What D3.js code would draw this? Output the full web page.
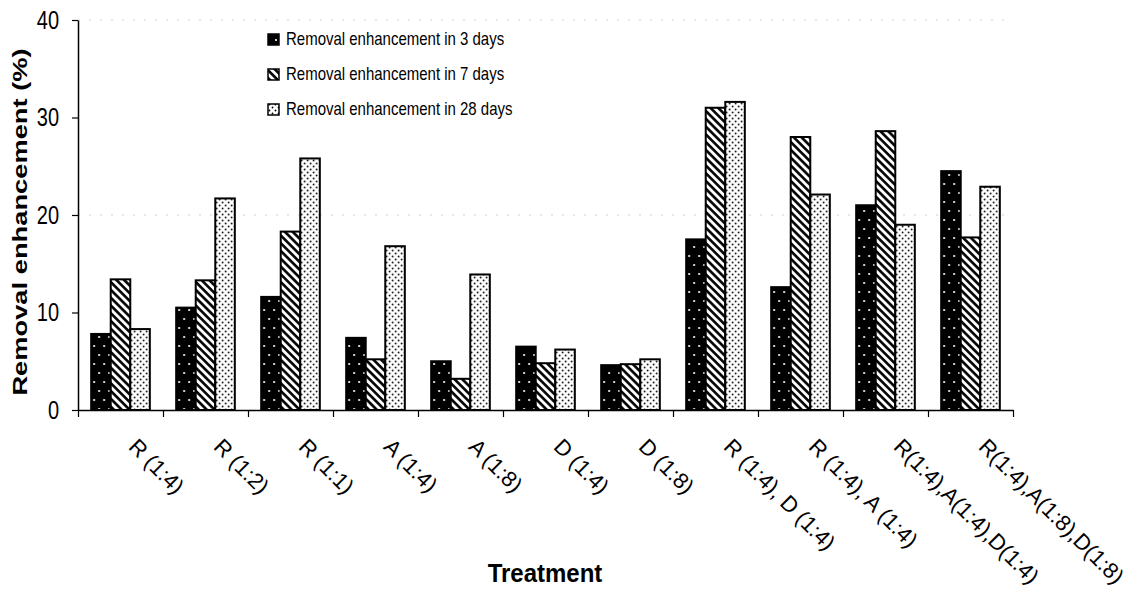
<!DOCTYPE html>
<html><head><meta charset="utf-8">
<script src="https://cdn.jsdelivr.net/npm/d3@7"></script>
<style>body{margin:0;background:#fff}text{font-family:"Liberation Sans",Arial,sans-serif}</style>
</head><body>
<svg id="c" width="1139" height="595"></svg>
<script>
const categories = ["R (1:4)","R (1:2)","R (1:1)","A (1:4)","A (1:8)","D (1:4)","D (1:8)","R (1:4), D (1:4)","R (1:4), A (1:4)","R(1:4),A(1:4),D(1:4)","R(1:4),A(1:8),D(1:8)"];
const seriesNames = ["Removal enhancement in 3 days","Removal enhancement in 7 days","Removal enhancement in 28 days"];
const days3 = [7.8,10.5,11.6,7.4,5.0,6.5,4.6,17.5,12.6,21.0,24.5];
const days7 = [13.4,13.3,18.3,5.2,3.2,4.8,4.7,31.0,28.0,28.6,17.7];
const days28 = [8.3,21.7,25.8,16.8,13.9,6.2,5.2,31.6,22.1,19.0,22.9];
const yTicks = [0,10,20,30,40];
const gridValues = [20,40];
const yTitle = "Removal enhancement (%)";
const xTitle = "Treatment";

const series = [days3, days7, days28];
const svg = d3.select("#c");
const L = 78, R = 1013, T = 20, B = 410;

// patterns
const defs = svg.append("defs");
const p0 = defs.append("pattern").attr("id","pat0").attr("patternUnits","userSpaceOnUse").attr("width",10).attr("height",18);
p0.append("rect").attr("width",10).attr("height",18).attr("fill","#000");
p0.append("circle").attr("cx",3).attr("cy",4).attr("r",1.1).attr("fill","#fff");
p0.append("circle").attr("cx",8).attr("cy",13).attr("r",1.1).attr("fill","#fff");
const p1 = defs.append("pattern").attr("id","pat1").attr("patternUnits","userSpaceOnUse").attr("width",5.5).attr("height",5.5).attr("patternTransform","rotate(-45)");
p1.append("rect").attr("width",5.5).attr("height",5.5).attr("fill","#fff");
p1.append("line").attr("x1",1.4).attr("x2",1.4).attr("y1",0).attr("y2",5.5).attr("stroke","#000").attr("stroke-width",2.6);
const p2 = defs.append("pattern").attr("id","pat2").attr("patternUnits","userSpaceOnUse").attr("width",6).attr("height",6);
p2.append("rect").attr("width",6).attr("height",6).attr("fill","#fff");
p2.append("circle").attr("cx",1.5).attr("cy",1.5).attr("r",0.9).attr("fill","#000");
p2.append("circle").attr("cx",4.5).attr("cy",4.5).attr("r",0.9).attr("fill","#000");

const y = d3.scaleLinear().domain([0,40]).range([B,T]);
const x0 = d3.scaleBand().domain(categories).range([L,R]).paddingInner(0.31).paddingOuter(0.155);
const x1 = d3.scaleBand().domain([0,1,2]).range([0,x0.bandwidth()]);
const xb = d3.scaleLinear().domain([0,categories.length]).range([L,R]);

// grid
svg.append("g").selectAll("line").data(gridValues).join("line")
  .attr("x1",L).attr("x2",R).attr("y1",d=>y(d)).attr("y2",d=>y(d))
  .attr("stroke","#d0d0d0").attr("stroke-width",1).attr("stroke-dasharray","2,9");

// bars
const groups = svg.append("g").selectAll("g").data(categories).join("g")
  .attr("transform",d=>`translate(${x0(d)},0)`);
groups.selectAll("rect").data((d,i)=>series.map((s,k)=>({k,v:s[i]}))).join("rect")
  .attr("x",d=>x1(d.k)).attr("width",x1.bandwidth())
  .attr("y",d=>y(d.v)).attr("height",d=>B-y(d.v))
  .attr("fill",d=>`url(#pat${d.k})`).attr("stroke","#000").attr("stroke-width",2);

// axes
const ya = svg.append("g").attr("transform",`translate(${L},0)`)
  .call(d3.axisLeft(y).tickValues(yTicks).tickSize(6).tickSizeOuter(0).tickPadding(13));
ya.selectAll("text").attr("font-size",20).attr("font-family","Liberation Sans, Arial, sans-serif")
  .attr("fill","#000").attr("transform","scale(1,1.25)");
ya.select(".domain").attr("stroke","#000").attr("stroke-width",1.5);
ya.selectAll(".tick line").attr("stroke","#000").attr("stroke-width",1.2);

const xa = svg.append("g").attr("transform",`translate(0,${B})`)
  .call(d3.axisBottom(xb).tickValues(d3.range(categories.length+1)).tickFormat("").tickSize(7).tickSizeOuter(0));
xa.select(".domain").attr("stroke","#000").attr("stroke-width",1.5);
xa.selectAll(".tick line").attr("stroke","#000").attr("stroke-width",1.2);

// category labels
svg.append("g").selectAll("text").data(categories).join("text")
  .attr("transform",d=>`translate(${x0(d)+x0.bandwidth()/2+7},448) rotate(45)`)
  .attr("font-size",22).attr("fill","#000").text(d=>d);

// titles
svg.append("text").attr("transform","translate(545,582) scale(1,1.1)").attr("text-anchor","middle")
  .attr("font-size",24).attr("font-weight","bold").text(xTitle);
svg.append("text").attr("transform","translate(27,222) rotate(-90) scale(1.3,1)").attr("text-anchor","middle")
  .attr("font-size",21).attr("font-weight","bold").text(yTitle);

// legend
const lg = svg.append("g").selectAll("g").data(seriesNames).join("g")
  .attr("transform",(d,i)=>`translate(268,${45+i*35})`);
lg.append("rect").attr("x",0).attr("y",-11).attr("width",11).attr("height",11)
  .attr("fill",(d,i)=>`url(#pat${i})`).attr("stroke","#000").attr("stroke-width",1.5);
lg.append("text").attr("transform","translate(18,0) scale(1,1.2)")
  .attr("font-size",15).attr("fill","#000").text(d=>d);
</script>
</body></html>
